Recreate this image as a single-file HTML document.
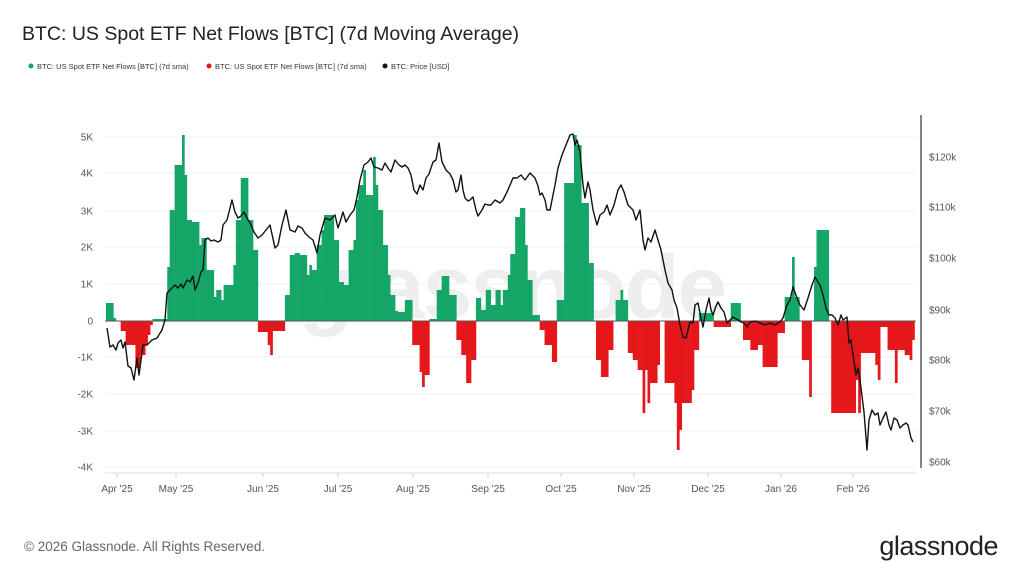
<!DOCTYPE html>
<html><head><meta charset="utf-8"><style>
body{margin:0;background:#fff;width:1024px;height:575px;overflow:hidden;font-family:"Liberation Sans",sans-serif}
</style></head><body>
<svg id="s" width="1024" height="575" xmlns="http://www.w3.org/2000/svg" font-family="Liberation Sans, sans-serif">
<text x="22" y="40" font-size="19.5" fill="#222">BTC: US Spot ETF Net Flows [BTC] (7d Moving Average)</text>
<circle cx="31" cy="66" r="2.5" fill="#14a667"/><text x="37" y="69" font-size="7.5" fill="#333">BTC: US Spot ETF Net Flows [BTC] (7d sma)</text>
<circle cx="209" cy="66" r="2.5" fill="#e5171b"/><text x="215" y="69" font-size="7.5" fill="#333">BTC: US Spot ETF Net Flows [BTC] (7d sma)</text>
<circle cx="385" cy="66" r="2.5" fill="#111"/><text x="391" y="69" font-size="7.5" fill="#333">BTC: Price [USD]</text>
<g id="grid"></g>
<text x="512" y="318" font-size="90" fill="#eeeeee" text-anchor="middle" font-weight="bold" letter-spacing="-2">glassnode</text>
<g id="bars"></g>
<line x1="105" y1="321" x2="916" y2="321" stroke="#555" stroke-width="1"/>
<polyline id="price" fill="none" stroke="#111" stroke-width="1.4" stroke-linejoin="round"/>
<line x1="921" y1="115" x2="921" y2="468" stroke="#333" stroke-width="1.2"/>
<line x1="105" y1="473" x2="916" y2="473" stroke="#ddd" stroke-width="1"/>
<g id="labels" font-size="10" fill="#555"></g>
<text x="24" y="551" font-size="13.5" fill="#666">© 2026 Glassnode. All Rights Reserved.</text>
<text x="998" y="555" font-size="27" fill="#222" text-anchor="end" letter-spacing="-0.5">glassnode</text>
</svg>
<script>
(function(){
var NS="http://www.w3.org/2000/svg";
function el(p,t,a,txt){var e=document.createElementNS(NS,t);for(var k in a)e.setAttribute(k,a[k]);if(txt!=null)e.textContent=txt;document.getElementById(p).appendChild(e);}
var L=[["5K",137],["4K",173],["3K",211],["2K",247],["1K",284],["0",321],["-1K",357],["-2K",394],["-3K",431],["-4K",467]];
L.forEach(function(a){if(a[0]!="0")el("grid","line",{x1:105,x2:916,y1:a[1],y2:a[1],stroke:"#f0f0f0"});el("labels","text",{x:93,y:a[1]+3.5,"text-anchor":"end"},a[0]);});
[["$120k",157],["$110k",207],["$100k",258],["$90k",310],["$80k",360],["$70k",411],["$60k",462]].forEach(function(a){el("labels","text",{x:929,y:a[1]+3.5},a[0]);});
[["Apr '25",117],["May '25",176],["Jun '25",263],["Jul '25",338],["Aug '25",413],["Sep '25",488],["Oct '25",561],["Nov '25",634],["Dec '25",708],["Jan '26",781],["Feb '26",853]].forEach(function(a){el("labels","text",{x:a[1],y:492,"text-anchor":"middle"},a[0]);el("grid","line",{x1:a[1],x2:a[1],y1:473,y2:477,stroke:"#ccc"});});
var S=[[106,303],[112,318],[115,321],[120,331],[125,345],[135,368],[140,355],[145,345],[148,335],[150,325],[153,319],[167,267],[170,210],[173,165],[181,135],[183,175],[186,220],[190,240],[192,222],[198,245],[202,238],[206,270],[212,297],[216,290],[220,300],[224,285],[232,265],[236,220],[240,178],[248,220],[253,250],[257,321],[258,332],[266,345],[270,355],[273,331],[283,295],[290,255],[295,253],[300,255],[305,275],[308,265],[312,270],[316,245],[320,230],[324,215],[333,240],[338,282],[343,285],[348,250],[352,240],[356,200],[358,185],[362,170],[365,195],[372,157],[374,185],[378,210],[382,245],[386,275],[390,295],[394,311],[398,312],[405,300],[411,345],[418,372],[421,387],[424,375],[428,319],[435,290],[440,276],[448,295],[455,340],[460,355],[465,383],[470,360],[474,298],[480,310],[484,290],[490,305],[495,290],[500,305],[503,290],[506,275],[510,254],[514,217],[520,208],[523,245],[527,280],[531,315],[538,328],[540,330],[545,345],[550,362],[557,300],[563,183],[572,145],[574,135],[576,145],[580,203],[588,263],[593,321],[595,360],[599,377],[607,350],[612,321],[615,300],[620,290],[622,300],[627,321],[628,353],[633,360],[638,370],[643,413],[645,370],[647,403],[648,383],[657,365],[660,321],[663,383],[673,403],[676,450],[678,430],[682,403],[690,390],[693,350],[697,321],[698,313],[713,327],[730,303],[740,321],[742,340],[750,350],[756,345],[763,367],[777,333],[783,297],[792,257],[794,297],[798,321],[800,360],[808,397],[810,360],[812,321],[813,267],[816,230],[828,321],[830,413],[848,413],[855,380],[858,413],[860,353],[875,365],[877,380],[879,353],[880,327],[887,350],[895,383],[897,350],[905,355],[909,360],[911,340],[913,350]];
var W=2.45;
for(var bx=106;bx<914;bx+=W){var by=321;for(var i=0;i<S.length;i++){if(S[i][0]<=bx+0.5)by=S[i][1];else break;}
 if(Math.abs(by-321)<0.5)continue;var ty=Math.min(by,321),h=Math.abs(by-321);
 el("bars","rect",{x:bx.toFixed(2),y:ty,width:(W+0.3).toFixed(2),height:h,fill:by<321?"#14a667":"#e5171b"});}
var P="107,328 110,347 113,345 116,350 118,343 121,340 123,348 125,342 128,366 131,368 134,380 137,358 139,375 141,360 143,345 147,345 152,340 157,338 162,330 165,320 167,293 170,290 175,285 178,288 181,284 183,288 187,280 190,282 193,276 195,290 198,283 201,272 203,270 205,240 208,238 211,241 214,240 218,242 221,240 223,225 227,220 232,200 235,212 238,218 241,216 244,212 247,218 250,223 254,232 258,238 262,235 266,230 270,225 275,248 278,245 282,225 286,210 290,230 295,232 298,226 302,228 305,233 309,237 313,240 317,253 320,235 325,218 330,220 335,215 338,228 340,222 343,212 346,222 350,215 354,210 357,197 360,180 364,165 368,162 371,158 374,167 378,168 382,170 385,163 388,168 391,172 395,160 399,165 402,167 405,165 408,168 411,175 414,190 417,194 420,185 423,190 426,178 429,174 433,162 436,160 439,143 442,162 446,170 450,174 453,180 456,192 458,190 461,175 463,190 465,198 468,201 470,200 473,197 476,210 478,216 482,210 485,204 488,205 491,205 495,200 500,203 503,200 507,192 513,178 517,178 521,175 525,180 530,173 535,178 538,186 540,195 542,193 545,200 547,210 550,210 553,195 555,185 558,168 562,155 566,145 570,135 573,134 575,145 577,140 580,152 583,185 585,198 588,182 590,190 593,210 597,225 600,215 604,212 607,205 610,215 614,205 618,190 621,185 624,192 628,205 633,210 636,220 640,210 643,240 645,250 648,238 651,242 655,230 658,240 661,250 665,270 668,283 672,290 674,300 677,308 680,325 683,337 686,338 690,322 693,323 695,305 698,303 701,318 703,327 706,310 709,298 711,310 713,315 716,306 718,302 721,308 724,312 727,323 730,320 733,317 738,320 741,322 744,323 747,327 750,322 755,321 760,323 765,325 770,323 775,325 780,322 783,318 787,305 790,300 793,287 797,298 800,305 804,310 808,298 812,285 815,277 818,282 820,285 823,295 826,308 829,315 832,315 835,318 838,325 841,315 843,320 847,317 849,343 851,340 853,355 856,375 858,368 860,380 864,412 867,450 869,420 872,410 875,415 878,413 880,425 883,418 886,412 889,425 891,430 894,418 897,420 900,428 903,425 906,423 908,425 911,438 913,442";
document.getElementById("price").setAttribute("points",P);
})();
</script>
</body></html>
